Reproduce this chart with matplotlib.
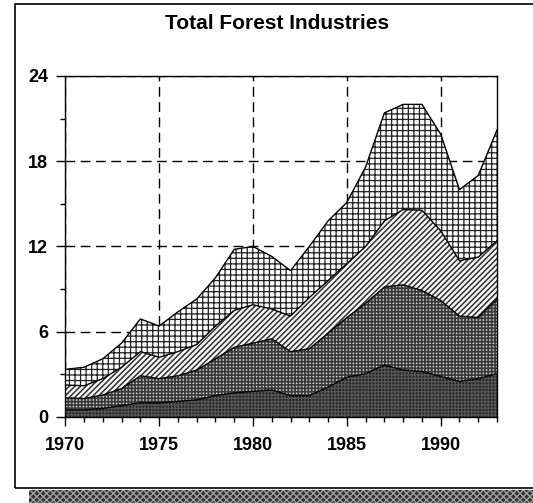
import matplotlib.pyplot as plt
import matplotlib.patches as mpatches
from matplotlib.ticker import MultipleLocator
import numpy as np

plt.rcParams['font.family'] = ['Liberation Sans', 'DejaVu Sans']

years = np.arange(1970, 1994)

# layer values (bottom to top)
layer_dark = [0.5, 0.5, 0.6, 0.8, 1.0, 1.0, 1.1, 1.2, 1.5, 1.7, 1.8, 1.9,
              1.5, 1.5, 2.1, 2.8, 3.05, 3.65, 3.3, 3.2, 2.85, 2.5, 2.7, 3.05]
layer_checker = [0.85, 0.8, 0.95, 1.2, 1.9, 1.7, 1.8, 2.1, 2.6, 3.2, 3.4, 3.6,
                 3.1, 3.3, 3.8, 4.2, 4.95, 5.5, 6.0, 5.7, 5.35, 4.6, 4.3, 5.25]
layer_diag = [0.9, 0.9, 1.15, 1.5, 1.7, 1.5, 1.7, 1.8, 2.3, 2.6, 2.7, 2.1,
              2.5, 3.6, 3.7, 3.8, 4.0, 4.65, 5.3, 5.65, 4.9, 3.9, 4.25, 4.1]
layer_grid = [1.1, 1.3, 1.4, 1.7, 2.3, 2.2, 2.8, 3.2, 3.4, 4.3, 4.1, 3.7,
              3.2, 3.6, 4.2, 4.3, 5.6, 7.6, 7.4, 7.45, 6.8, 5.0, 5.75, 7.8]

layers = [layer_dark, layer_checker, layer_diag, layer_grid]
faces = ['#202020', '#dadada', 'white', 'white']
hatch_cols = ['#555555', '#3a3a3a', '#3a3a3a', '#202020']
hatches = ['+++++', '+++++', '//////', '+++']
hatch_lws = [1.0, 1.25, 1.2, 0.9]

fig = plt.figure(figsize=(5.33, 5.03), dpi=100)
ax = fig.add_axes([0.1225, 0.171, 0.81, 0.678])

polys = ax.stackplot(years, *layers, colors=faces, zorder=2)
for p, hc, h, hl in zip(polys, hatch_cols, hatches, hatch_lws):
    p.set_edgecolor(hc)
    p.set_hatch(h)
    p.set_linewidth(0)
    if hasattr(p, 'set_hatch_linewidth'):
        p.set_hatch_linewidth(hl)

# outlines of each stacked layer
tops = np.cumsum(np.array(layers), axis=0)
for t in tops:
    ax.plot(years, t, color='black', lw=1.0, zorder=3)

ax.set_xlim(1970, 1993)
ax.set_ylim(0, 24)
ax.xaxis.set_major_locator(MultipleLocator(5))
ax.xaxis.set_minor_locator(MultipleLocator(1))
ax.yaxis.set_major_locator(MultipleLocator(6))
ax.yaxis.set_minor_locator(MultipleLocator(3))
ax.tick_params(which='major', direction='out', length=6.5, width=1, labelsize=13)
ax.tick_params(axis='x', which='major', pad=8)
ax.tick_params(axis='y', which='major', pad=6)
ax.tick_params(which='minor', direction='out', length=3.5, width=1)
for lab in ax.get_xticklabels() + ax.get_yticklabels():
    lab.set_fontweight('bold')
for s in ax.spines.values():
    s.set_linewidth(1.0)

ax.grid(True, which='major', color='black', linestyle=(0, (7, 4)), lw=1.0, zorder=1)
ax.set_axisbelow(True)

fig.text(277.5 / 533, 1 - 24 / 503, 'Total Forest Industries', ha='center', va='center',
         fontsize=15, fontweight='bold')

# outer frame and its shadow
fig.patches.append(mpatches.Rectangle((15 / 533, 1 - 488 / 503), 1, 484 / 503,
                                      transform=fig.transFigure, fill=False,
                                      edgecolor='black', lw=1.2))
fig.patches.append(mpatches.Rectangle((29 / 533, 0), 1, 13 / 503,
                                      transform=fig.transFigure, facecolor='#333333',
                                      edgecolor='#a0a0a0', hatch='xxxxx', lw=0))

fig.savefig('out.png', dpi=100)
